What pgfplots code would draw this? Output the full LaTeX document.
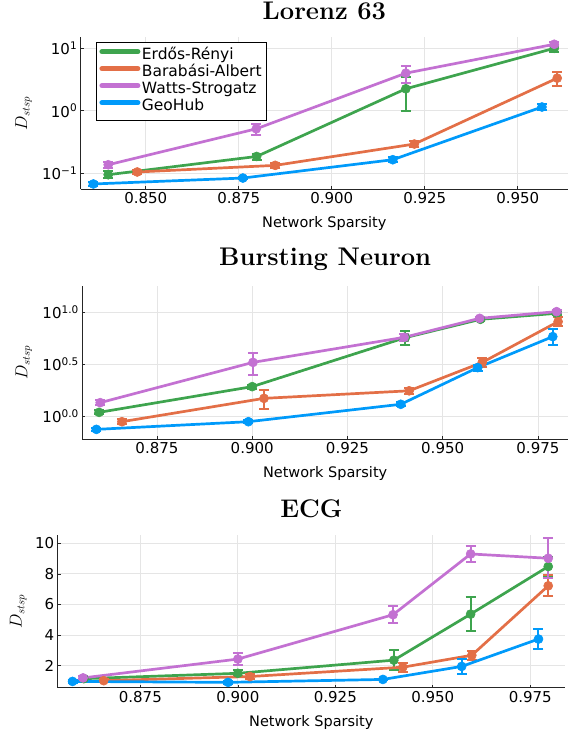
\documentclass[border=0pt]{standalone}
\usepackage{fontspec}
\setsansfont{DejaVu Sans}
\usepackage{pgfplots}
\pgfplotsset{compat=1.18}
\definecolor{cER}{HTML}{3EA44E}
\definecolor{cBA}{HTML}{E36F47}
\definecolor{cWS}{HTML}{C371D2}
\definecolor{cGH}{HTML}{009AFA}
\pgfplotsset{
  myaxis/.style={
    scale only axis,
    anchor=south west,
    axis x line*=bottom, axis y line*=left,
    axis line style={black!85, line width=0.9bp},
    tick align=inside, major tick length=3bp,
    tick style={black!85, line width=0.7bp},
    xminorticks=false, yminorticks=false,
    grid=major, major grid style={black!10, line width=0.8bp},
    tick label style={font=\sffamily\fontsize{15bp}{18bp}\selectfont},
    xlabel={Network Sparsity},
    xlabel style={font=\sffamily\fontsize{14.5bp}{17bp}\selectfont, at={(axis description cs:0.5,0)}, anchor=base, yshift=-38.5bp},
    title style={font=\bfseries\fontsize{25.5bp}{30bp}\selectfont, at={(axis description cs:0.5,1)}, anchor=base},
    ylabel={$D_{stsp}$},
    ylabel style={font=\fontsize{16bp}{19bp}\selectfont, anchor=base},
    clip=false,
  },
  ser/.style={color=#1, line width=2.7bp, mark=*, mark size=4.5bp,
    mark options={solid, fill=#1, line width=0.6bp},
    error bars/.cd, y dir=both, y explicit,
    error bar style={line width=2bp, color=#1},
    error mark=|,
    error mark options={line width=2bp, mark size=5bp, color=#1}},
  legend image code/.code={\draw[line width=5bp, line cap=round] (0bp,4.5bp) -- (36bp,4.5bp);},
}
\begin{document}
\begin{tikzpicture}
\useasboundingbox (0,0) rectangle (569bp,732bp);
% ---------------- Lorenz 63
\begin{axis}[myaxis, at={(80.7bp,542.7bp)}, width=487.3bp, height=152bp,
  title={Lorenz 63}, title style={yshift=12.3bp},
  ylabel style={at={(axis description cs:-0.110,0.5)}},
  xmin=0.8325, xmax=0.9635, ymode=log, ymin=0.0555, ymax=15.0,
  xtick={0.85,0.875,0.9,0.925,0.95}, xticklabels={0.850,0.875,0.900,0.925,0.950},
  ytick={0.1,1,10}, yticklabels={10\textsuperscript{−1},10\textsuperscript{0},10\textsuperscript{1}},
  legend cell align=left,
  legend style={at={(0.0314,0.967)}, anchor=north west, draw=black, line width=0.8bp, fill=white,
    font=\sffamily\fontsize{15.5bp}{18bp}\selectfont, inner xsep=3bp, inner ysep=5bp, row sep=0bp,
    nodes={inner xsep=1.5bp, inner ysep=0bp, text height=11.5bp, text depth=5.5bp}},
]
\addplot[ser=cER] table[x=x,y=y,y error=e]{
x y e
0.8399 0.095 0.012
0.8798 0.186 0.02
0.9199 2.25 1.24
0.9598 10.0 1.2
};
\addlegendentry{Erdős-Rényi}
\addplot[ser=cBA] table[x=x,y=y,y error=e]{
x y e
0.8477 0.105 0.008
0.8848 0.134 0.012
0.9222 0.294 0.03
0.9606 3.33 0.8
};
\addlegendentry{Barabási-Albert}
\addplot[ser=cWS] table[x=x,y=y,y error=e]{
x y e
0.8399 0.137 0.015
0.8797 0.515 0.1
0.9199 4.0 1.2
0.9598 11.6 0.8
};
\addlegendentry{Watts-Strogatz}
\addplot[ser=cGH] table[x=x,y=y,y error=e]{
x y e
0.8359 0.0675 0.004
0.8761 0.084 0.004
0.9164 0.165 0.015
0.9565 1.15 0.12
};
\addlegendentry{GeoHub}
\end{axis}
% ---------------- Bursting Neuron
\begin{axis}[myaxis, at={(82.3bp,292.7bp)}, width=485.7bp, height=153.3bp,
  title={Bursting Neuron}, title style={yshift=15bp},
  ylabel style={at={(axis description cs:-0.113,0.5)}},
  xmin=0.8554, xmax=0.9829, ymode=log, ymin=0.596, ymax=17.95,
  xtick={0.875,0.9,0.925,0.95,0.975}, xticklabels={0.875,0.900,0.925,0.950,0.975},
  ytick={1,3.16228,10}, yticklabels={10\textsuperscript{0.0},10\textsuperscript{0.5},10\textsuperscript{1.0}},
]
\addplot[ser=cER] table[x=x,y=y,y error=e]{
x y e
0.8598 1.084 0.05
0.9000 1.92 0.08
0.9402 5.70 0.9
0.9599 8.56 0.4
0.9799 9.78 0.3
};
\addplot[ser=cBA] table[x=x,y=y,y error=e]{
x y e
0.8658 0.881 0.05
0.9031 1.48 0.3
0.9412 1.75 0.12
0.9604 3.29 0.35
0.9803 8.13 0.8
};
\addplot[ser=cWS] table[x=x,y=y,y error=e]{
x y e
0.8601 1.345 0.08
0.9002 3.29 0.78
0.9399 5.74 0.5
0.9597 8.75 0.3
0.9799 10.15 0.3
};
\addplot[ser=cGH] table[x=x,y=y,y error=e]{
x y e
0.8591 0.743 0.03
0.8990 0.881 0.03
0.9390 1.297 0.06
0.9592 2.93 0.2
0.9789 5.83 1.0
};
\end{axis}
% ---------------- ECG
\begin{axis}[myaxis, at={(57.7bp,44.3bp)}, width=507.3bp, height=152.7bp,
  title={ECG}, title style={yshift=11.7bp},
  ylabel style={at={(axis description cs:-0.071,0.5)}},
  xmin=0.8538, xmax=0.9839, ymin=0.56, ymax=10.54,
  xtick={0.875,0.9,0.925,0.95,0.975}, xticklabels={0.875,0.900,0.925,0.950,0.975},
  ytick={2,4,6,8,10}, yticklabels={2,4,6,8,10},
]
\addplot[ser=cER] table[x=x,y=y,y error=e]{
x y e
0.8605 1.15 0.1
0.9000 1.50 0.2
0.9400 2.36 0.65
0.9597 5.37 1.1
0.9796 8.48 0.6
};
\addplot[ser=cBA] table[x=x,y=y,y error=e]{
x y e
0.8656 1.02 0.1
0.9031 1.29 0.15
0.9423 1.90 0.3
0.9600 2.68 0.3
0.9796 7.22 0.68
};
\addplot[ser=cWS] table[x=x,y=y,y error=e]{
x y e
0.8603 1.20 0.1
0.9000 2.43 0.4
0.9398 5.33 0.55
0.9597 9.30 0.5
0.9796 9.02 1.3
};
\addplot[ser=cGH] table[x=x,y=y,y error=e]{
x y e
0.8576 0.97 0.08
0.8975 0.91 0.08
0.9372 1.10 0.05
0.9574 1.95 0.5
0.9771 3.74 0.68
};
\end{axis}
\end{tikzpicture}
\end{document}
